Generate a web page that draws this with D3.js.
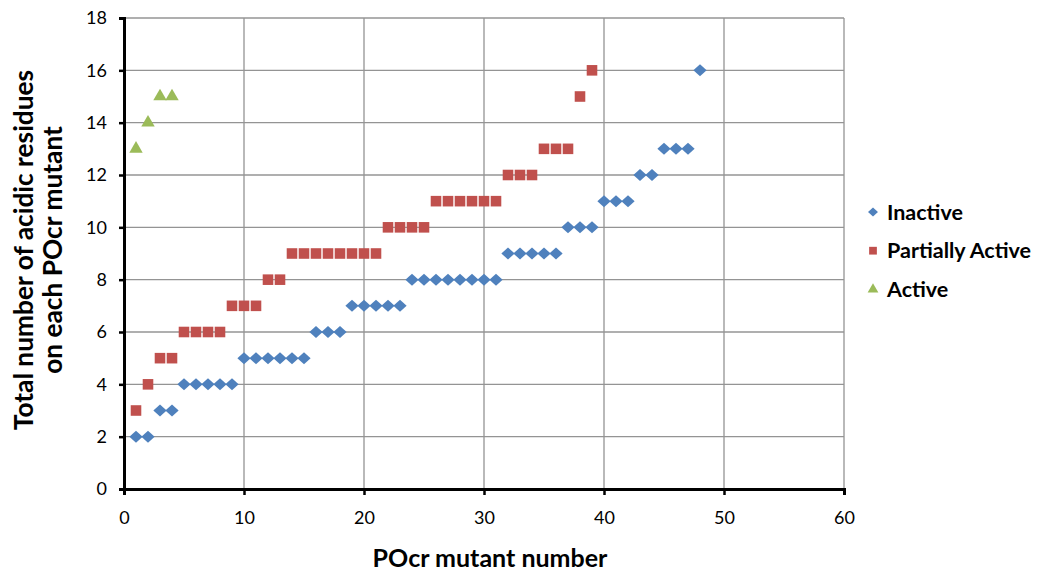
<!DOCTYPE html>
<html>
<head>
<meta charset="utf-8">
<script src="https://cdn.jsdelivr.net/npm/d3@7"></script>
<style>
  html, body { margin: 0; padding: 0; background: #fff; }
  svg text { font-family: Lato, "Open Sans", "Liberation Sans", sans-serif; fill: #000; }
</style>
</head>
<body>
<svg id="chart" width="1040" height="573"></svg>
<script>
// Mutant numbers and acidic residue counts per activity class
const inactiveX = d3.range(1, 49);
const inactiveY = [2, 2, 3, 3, 4, 4, 4, 4, 4, 5, 5, 5, 5, 5, 5, 6, 6, 6, 7, 7, 7, 7, 7,
  8, 8, 8, 8, 8, 8, 8, 8, 9, 9, 9, 9, 9, 10, 10, 10, 11, 11, 11, 12, 12, 13, 13, 13, 16];
const partialX = d3.range(1, 40);
const partialY = [3, 4, 5, 5, 6, 6, 6, 6, 7, 7, 7, 8, 8, 9, 9, 9, 9, 9, 9, 9, 9,
  10, 10, 10, 10, 11, 11, 11, 11, 11, 11, 12, 12, 12, 13, 13, 13, 15, 16];
const activeX = [1, 2, 3, 4];
const activeY = [13, 14, 15, 15];

const xTicks = [0, 10, 20, 30, 40, 50, 60];
const yTicks = [0, 2, 4, 6, 8, 10, 12, 14, 16, 18];

const seriesNames = ["Inactive", "Partially Active", "Active"];
const seriesColors = ["#4F81BD", "#C0504D", "#9BBB59"];

// Square-ish diamond (wider than d3's built-in one)
const wideDiamond = {
  draw(ctx, size) {
    const w = Math.sqrt(size / 2) * 1.05, h = Math.sqrt(size / 2) * 0.95;
    ctx.moveTo(0, -h); ctx.lineTo(w, 0); ctx.lineTo(0, h); ctx.lineTo(-w, 0); ctx.closePath();
  }
};
const seriesShapes = [wideDiamond, d3.symbolSquare, d3.symbolTriangle];
const markerSizes = [80, 112, 78];

const svg = d3.select("#chart");
const plotLeft = 124, plotRight = 844, plotTop = 18, plotBottom = 489;

const x = d3.scaleLinear().domain([0, 60]).range([plotLeft, plotRight]);
const y = d3.scaleLinear().domain([0, 18]).range([plotBottom, plotTop]);

// Gridlines
const grid = svg.append("g");
grid.selectAll("line.h").data(yTicks.filter(v => v > 0)).join("line")
  .attr("x1", plotLeft).attr("x2", plotRight)
  .attr("y1", d => y(d)).attr("y2", d => y(d))
  .attr("stroke", "#949494").attr("stroke-width", 1.3);
grid.selectAll("line.v").data(xTicks.filter(v => v > 0)).join("line")
  .attr("y1", plotTop).attr("y2", plotBottom)
  .attr("x1", d => x(d)).attr("x2", d => x(d))
  .attr("stroke", "#949494").attr("stroke-width", 1.3);

// Axes
const xAxis = svg.append("g").attr("transform", `translate(0,${plotBottom})`)
  .call(d3.axisBottom(x).tickValues(xTicks).tickSize(6).tickPadding(16).tickFormat(d3.format("d")));
const yAxis = svg.append("g").attr("transform", `translate(${plotLeft},0)`)
  .call(d3.axisLeft(y).tickValues(yTicks).tickSize(5).tickPadding(12).tickFormat(d3.format("d")));
[xAxis, yAxis].forEach(a => {
  a.select(".domain").attr("stroke", "#000").attr("stroke-width", 3);
  a.selectAll(".tick line").attr("stroke", "#000").attr("stroke-width", 2.5);
  a.selectAll(".tick text").attr("font-size", 18).attr("font-family", "Lato, 'Open Sans', sans-serif");
});

// Data points
const series = [
  inactiveX.map((v, i) => [v, inactiveY[i]]),
  partialX.map((v, i) => [v, partialY[i]]),
  activeX.map((v, i) => [v, activeY[i]])
];
series.forEach((pts, s) => {
  const sym = d3.symbol().type(seriesShapes[s]).size(markerSizes[s]);
  svg.append("g").selectAll("path").data(pts).join("path")
    .attr("d", sym)
    .attr("transform", d => `translate(${x(d[0])},${y(d[1])})`)
    .attr("fill", seriesColors[s]);
});

// Legend
const legend = svg.append("g");
seriesNames.forEach((name, i) => {
  const ly = 212 + i * 38.7;
  legend.append("path")
    .attr("d", d3.symbol().type(seriesShapes[i]).size([45, 60, 50][i])())
    .attr("transform", `translate(873,${ly})`)
    .attr("fill", seriesColors[i]);
  legend.append("text")
    .attr("x", 887).attr("y", ly).attr("dy", "0.36em")
    .attr("font-size", 21.5).attr("font-weight", "bold")
    .text(name);
});

// Axis titles
svg.append("text")
  .attr("x", 490).attr("y", 567)
  .attr("text-anchor", "middle")
  .attr("font-size", 25).attr("font-weight", "bold")
  .text("POcr mutant number");

const yTitle = svg.append("text")
  .attr("transform", "translate(0,250) rotate(-90)")
  .attr("text-anchor", "middle")
  .attr("font-size", 26.3).attr("font-weight", "bold");
yTitle.append("tspan").attr("x", 0).attr("y", 33).text("Total number of acidic residues");
yTitle.append("tspan").attr("x", 0).attr("y", 62).text("on each POcr mutant");
</script>
</body>
</html>
